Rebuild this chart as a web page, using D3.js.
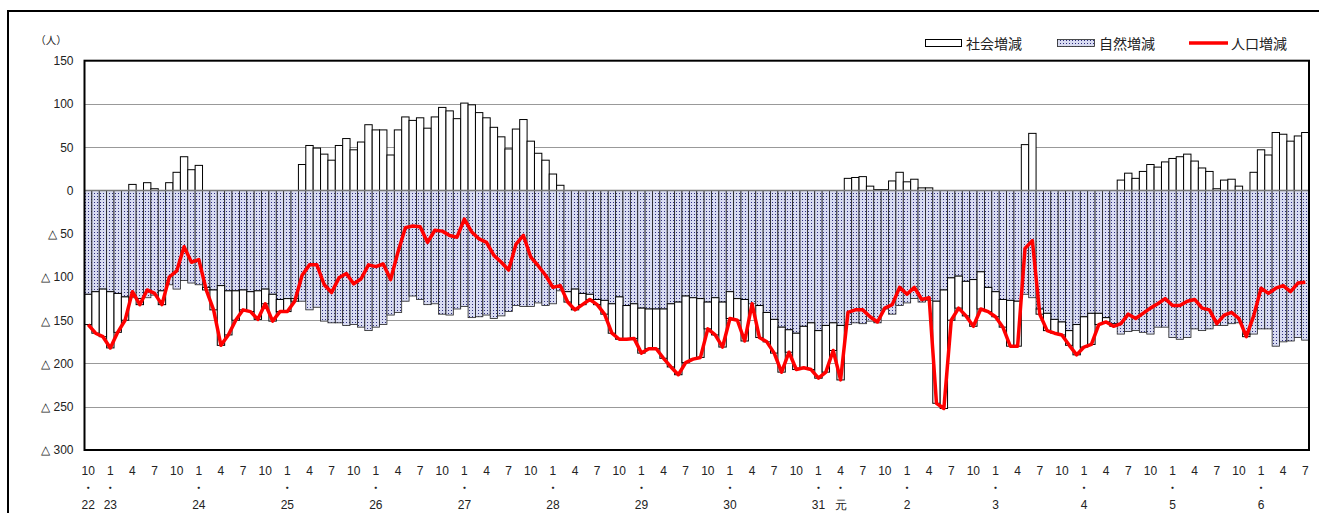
<!DOCTYPE html>
<html>
<head>
<meta charset="utf-8">
<script src="https://cdn.jsdelivr.net/npm/d3@7"></script>
<style>
  html, body { margin: 0; padding: 0; background: #fff; }
  svg { display: block; }
  text { font-family: "Liberation Sans", Arial, sans-serif; fill: #222; }
  .jp { font-family: "Noto Sans CJK JP", sans-serif; }
</style>
</head>
<body>
<svg id="chart" width="1319" height="513"></svg>
<script>
// Monthly population change, Oct H22 through Jul R6 (166 months)
const natural = [
  -120,-117,-114,-117,-119,-123,-124,-125,-124,-121,-116,-109,-114,-104,-107,-109,-112,-115,-110,-116,
  -116,-115,-117,-116,-114,-120,-126,-125,-125,-128,-138,-135,-151,-153,-153,-156,-155,-158,-162,-158,
  -155,-144,-141,-128,-122,-126,-132,-131,-143,-144,-137,-134,-147,-146,-144,-148,-145,-140,-133,-134,
  -134,-130,-133,-131,-116,-117,-114,-119,-120,-126,-127,-131,-123,-133,-131,-136,-137,-137,-137,-131,
  -129,-122,-124,-125,-129,-124,-129,-117,-125,-126,-131,-133,-141,-149,-158,-161,-165,-157,-153,-162,
  -156,-153,-156,-155,-153,-154,-151,-153,-137,-143,-133,-130,-125,-129,-127,-128,-115,-101,-99,-105,
  -103,-94,-112,-117,-126,-127,-128,-120,-124,-137,-142,-149,-152,-162,-155,-146,-142,-142,-147,-154,
  -166,-163,-162,-164,-166,-158,-158,-170,-172,-170,-160,-162,-160,-156,-156,-154,-153,-166,-166,-160,
  -160,-180,-175,-174,-170,-173
];
const social = [
  -35,-48,-55,-65,-45,-27,7,-7,9,2,-16,9,21,39,24,29,-3,-23,-69,-51,
  -34,-23,-23,-33,-17,-31,-14,-15,-3,30,52,49,42,35,52,60,47,56,76,70,
  70,41,70,85,81,84,72,85,96,92,83,101,99,90,84,73,62,48,71,82,
  57,43,35,19,6,-12,-24,-13,-6,-6,-16,-34,-49,-39,-40,-52,-46,-46,-57,-73,
  -84,-77,-71,-68,-31,-43,-52,-31,-25,-48,0,-37,-34,-39,-52,-26,-42,-48,-54,-55,
  -54,-32,-63,14,15,16,5,1,1,11,21,10,13,3,3,-118,-137,-49,-37,-40,
  -54,-43,-28,-29,-32,-53,-52,53,66,-6,-20,-16,-15,-17,-35,-35,-36,-13,-5,-3,
  12,20,14,22,30,27,33,37,39,42,34,26,22,2,12,13,5,-3,21,47,
  41,67,65,57,63,67
];
const total = [
  -155,-165,-169,-182,-164,-150,-117,-132,-115,-119,-132,-100,-93,-65,-83,-80,-115,-138,-179,-167,
  -150,-138,-140,-149,-131,-151,-140,-140,-128,-98,-86,-86,-109,-118,-101,-96,-108,-102,-86,-88,
  -85,-103,-71,-43,-41,-42,-60,-46,-47,-52,-54,-33,-48,-56,-60,-75,-83,-92,-62,-52,
  -77,-87,-98,-112,-110,-129,-138,-132,-126,-132,-143,-165,-172,-172,-171,-188,-183,-183,-194,-204,
  -213,-199,-195,-193,-160,-167,-181,-148,-150,-174,-131,-170,-175,-188,-210,-187,-207,-205,-207,-217,
  -210,-185,-219,-141,-138,-138,-146,-152,-136,-132,-112,-120,-112,-126,-124,-246,-252,-150,-136,-145,
  -157,-137,-140,-146,-158,-180,-180,-67,-58,-143,-162,-165,-167,-179,-190,-181,-178,-155,-152,-157,
  -154,-143,-148,-142,-136,-131,-125,-133,-133,-128,-126,-136,-138,-154,-144,-141,-148,-169,-145,-113,
  -119,-113,-110,-117,-107,-106
];

// Month of each period (starting in October), shown every quarter
const firstMonth = 10;
const monthIdx = d3.range(natural.length);
const monthOf = i => ((firstMonth - 1 + i) % 12) + 1;

// Era year labels and the month index each one sits under
const yearLabels = ["22","23","24","25","26","27","28","29","30","31","元","2","3","4","5","6"];
const yearAt     = [0, 3, 15, 27, 39, 51, 63, 75, 87, 99, 102, 111, 123, 135, 147, 159];

const yTicks = [150, 100, 50, 0, -50, -100, -150, -200, -250, -300];
const gridTicks = [100, 50, -50, -100, -150, -200, -250];

const legendItems = ["社会増減", "自然増減", "人口増減"];

const svg = d3.select("#chart");
const plot = { left: 84.5, right: 1309, top: 60.7, bottom: 450 };

const x = d3.scaleBand().domain(monthIdx).range([plot.left, plot.right]).padding(0);
const y = d3.scaleLinear().domain([-300, 150]).range([plot.bottom, plot.top]);

// dotted fill for natural change
const defs = svg.append("defs");
const pat = defs.append("pattern")
  .attr("id", "dots").attr("patternUnits", "userSpaceOnUse")
  .attr("width", 3).attr("height", 3);
pat.append("rect").attr("width", 3).attr("height", 3).attr("fill", "#d8dbf1");
pat.append("rect").attr("x", 1).attr("y", 1).attr("width", 1).attr("height", 1).attr("fill", "#2c2c7c");

// outer frame
svg.append("rect")
  .attr("x", 8).attr("y", 11).attr("width", 1330).attr("height", 540)
  .attr("fill", "none").attr("stroke", "#000").attr("stroke-width", 2);

// gridlines
svg.append("g").selectAll("line").data(gridTicks).join("line")
  .attr("x1", plot.left).attr("x2", plot.right)
  .attr("y1", d => Math.round(y(d)) + 0.5).attr("y2", d => Math.round(y(d)) + 0.5)
  .attr("stroke", "#333").attr("stroke-width", 1).attr("stroke-dasharray", "1,1");

// natural change bars (from zero)
svg.append("g").selectAll("rect").data(monthIdx).join("rect")
  .attr("x", i => x(i))
  .attr("width", x.bandwidth())
  .attr("y", i => y(Math.max(0, natural[i])))
  .attr("height", i => Math.abs(y(natural[i]) - y(0)))
  .attr("fill", "url(#dots)")
  .attr("stroke", "#222").attr("stroke-width", 0.8);

// social change bars: above zero when positive, stacked under natural when negative
svg.append("g").selectAll("rect").data(monthIdx.filter(i => social[i] !== 0)).join("rect")
  .attr("x", i => x(i))
  .attr("width", x.bandwidth())
  .attr("y", i => social[i] > 0 ? y(social[i]) : y(natural[i]))
  .attr("height", i => social[i] > 0 ? y(0) - y(social[i]) : y(natural[i] + social[i]) - y(natural[i]))
  .attr("fill", "#fff")
  .attr("stroke", "#000").attr("stroke-width", 1);

// zero line
svg.append("line")
  .attr("x1", plot.left).attr("x2", plot.right)
  .attr("y1", y(0)).attr("y2", y(0))
  .attr("stroke", "#777").attr("stroke-width", 1.5);

// total population change
svg.append("path")
  .datum(monthIdx)
  .attr("fill", "none").attr("stroke", "#ff0000").attr("stroke-width", 3.5)
  .attr("stroke-linejoin", "round")
  .attr("d", d3.line().x(i => x(i) + x.bandwidth() / 2).y(i => y(total[i])));

// plot border
svg.append("rect")
  .attr("x", plot.left).attr("y", plot.top)
  .attr("width", plot.right - plot.left).attr("height", plot.bottom - plot.top)
  .attr("fill", "none").attr("stroke", "#000").attr("stroke-width", 2);

// y axis labels
const yAxis = d3.axisLeft(y).tickValues(yTicks).tickSize(0).tickPadding(11)
  .tickFormat(d => d < 0 ? "△ " + (-d) : String(d));
const gy = svg.append("g").attr("transform", `translate(${plot.left},0)`).call(yAxis);
gy.select(".domain").remove();
gy.selectAll("text").attr("font-size", 12).attr("fill", "#222")
  .attr("font-family", "'Liberation Sans', Arial, sans-serif");

svg.append("text").attr("class", "jp")
  .attr("x", 51).attr("y", 44).attr("text-anchor", "middle")
  .attr("font-size", 10.5).text("（人）");

// month labels
const quarterIdx = monthIdx.filter(i => (monthOf(i) - 1) % 3 === 0);
svg.append("g").selectAll("text").data(quarterIdx).join("text")
  .attr("x", i => x(i) + x.bandwidth() / 2)
  .attr("y", 475)
  .attr("text-anchor", "middle").attr("font-size", 12)
  .text(i => monthOf(i));

// separator dots and era years
svg.append("g").selectAll("text").data(yearAt).join("text")
  .attr("class", "jp")
  .attr("x", i => x(i) + x.bandwidth() / 2)
  .attr("y", 492)
  .attr("text-anchor", "middle").attr("font-size", 11)
  .text("・");
svg.append("g").selectAll("text").data(yearAt).join("text")
  .attr("x", i => x(i) + x.bandwidth() / 2)
  .attr("y", 509)
  .attr("text-anchor", "middle").attr("font-size", 12)
  .attr("font-family", (d, k) => yearLabels[k] === "元" ? "'Noto Sans CJK JP', sans-serif" : null)
  .text((d, k) => yearLabels[k]);

// legend
const lg = svg.append("g");
lg.append("rect").attr("x", 925.5).attr("y", 39.5).attr("width", 36).attr("height", 7)
  .attr("fill", "#fff").attr("stroke", "#000").attr("stroke-width", 1);
lg.append("text").attr("class", "jp").attr("x", 966).attr("y", 49).attr("font-size", 14).text(legendItems[0]);
lg.append("rect").attr("x", 1057.5).attr("y", 39.5).attr("width", 37).attr("height", 7)
  .attr("fill", "url(#dots)").attr("stroke", "#222").attr("stroke-width", 0.8);
lg.append("text").attr("class", "jp").attr("x", 1099).attr("y", 49).attr("font-size", 14).text(legendItems[1]);
lg.append("line").attr("x1", 1189).attr("x2", 1228).attr("y1", 43).attr("y2", 43)
  .attr("stroke", "#ff0000").attr("stroke-width", 3.5);
lg.append("text").attr("class", "jp").attr("x", 1231).attr("y", 49).attr("font-size", 14).text(legendItems[2]);
</script>
</body>
</html>
